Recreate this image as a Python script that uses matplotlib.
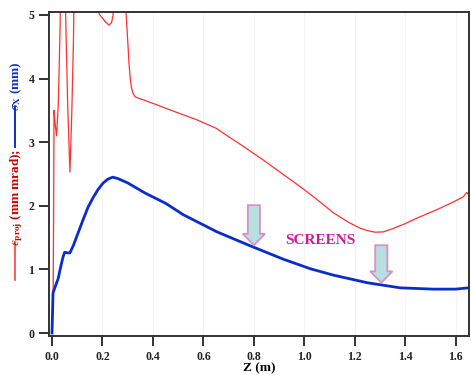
import numpy as np
import matplotlib
matplotlib.use('Agg')
import matplotlib.pyplot as plt
from matplotlib.patches import FancyArrow
from matplotlib.lines import Line2D

# beam size sigma_x (mm)
z_sig = [0.0, 0.004, 0.012, 0.024, 0.035, 0.044, 0.05, 0.06, 0.071, 0.085, 0.103,
         0.123, 0.143, 0.163, 0.183, 0.203, 0.222, 0.24, 0.26, 0.30, 0.369, 0.45,
         0.52, 0.654, 0.786, 0.917, 1.024, 1.115, 1.25, 1.38, 1.51, 1.6, 1.65]
sig_x = [0.0, 0.63, 0.72, 0.85, 1.05, 1.2, 1.27, 1.26, 1.26, 1.38, 1.57,
         1.78, 1.98, 2.13, 2.26, 2.36, 2.42, 2.45, 2.43, 2.36, 2.2, 2.04,
         1.86, 1.59, 1.37, 1.16, 1.01, 0.91, 0.79, 0.71, 0.69, 0.69, 0.71]

# projected emittance (mm mrad), values above 5 run off the top
z_eps = [0.004, 0.006, 0.008, 0.012, 0.018, 0.025, 0.032, 0.038, 0.048, 0.054,
         0.062, 0.071, 0.078, 0.085, 0.092, 0.13, 0.175, 0.19, 0.21, 0.226, 0.236,
         0.242, 0.255, 0.28, 0.294, 0.300, 0.305, 0.31, 0.315, 0.322, 0.33, 0.38,
         0.44, 0.5, 0.575, 0.65, 0.706, 0.76, 0.837, 0.9, 0.984, 1.05, 1.115, 1.18,
         1.22, 1.25, 1.28, 1.313, 1.35, 1.4, 1.448, 1.52, 1.58, 1.63, 1.643, 1.65]
eps = [0.3, 1.5, 3.5, 3.3, 3.1, 3.6, 4.8, 7.0, 7.0, 5.0,
       3.6, 2.53, 3.4, 4.6, 7.0, 8.0, 5.1, 5.0, 4.9, 4.84, 4.88,
       5.0, 6.0, 7.0, 5.0, 4.6, 4.25, 4.0, 3.85, 3.76, 3.71, 3.64,
       3.55, 3.46, 3.35, 3.22, 3.07, 2.93, 2.72, 2.54, 2.30, 2.1, 1.89, 1.73,
       1.65, 1.61, 1.585, 1.59, 1.64, 1.72, 1.81, 1.93, 2.04, 2.14, 2.21, 2.18]

# screen positions (z, top, tip)
screens_z = [0.8, 1.305]
screens_top = [2.01, 1.38]
screens_tip = [1.38, 0.79]

serif = 'Liberation Serif'
plt.rcParams['font.family'] = serif
plt.rcParams['mathtext.fontset'] = 'stix'

fig = plt.figure(figsize=(4.71, 3.75), dpi=100)
ax = fig.add_axes([0.104, 0.104, 0.892, 0.864])

ax.plot(z_eps, eps, color='#ff3030', lw=0.9)
ax.plot(z_sig, sig_x, color='#0b2ccc', lw=2.0)

for zs, top, tip in zip(screens_z, screens_top, screens_tip):
    ax.add_patch(FancyArrow(zs, top, 0, tip - top, width=0.048, head_width=0.088,
                            head_length=0.18, length_includes_head=True,
                            facecolor='#b8e0e0', edgecolor='#d890c8', lw=1.3, zorder=3))

ax.text(1.063, 1.46, 'SCREENS', color='#cc1a99', fontsize=11, fontweight='bold',
        ha='center', va='center')

ax.set_xlim(-0.012, 1.653)
ax.set_ylim(-0.047, 5.047)
ax.set_xticks(np.arange(0, 1.61, 0.2))
ax.set_xticklabels(['%.1f' % v for v in np.arange(0, 1.61, 0.2)])
ax.set_yticks(range(6))
ax.tick_params(direction='out', length=7, width=1.3, labelsize=8.5, colors='#222222')
for lab in ax.get_xticklabels() + ax.get_yticklabels():
    lab.set_fontweight('bold')
for s in ax.spines.values():
    s.set_linewidth(1.4)
    s.set_color('#333333')
ax.grid(axis='x', color='#f4f4f4', lw=0.6)

ax.set_xlabel('Z (m)', fontsize=9.5, fontweight='bold', labelpad=0)

# composed y label
x0 = 0.032
fig.add_artist(Line2D([x0, x0], [1 - 280 / 375, 1 - 242 / 375], color='#ff4040', lw=1.2))
fig.text(x0 + 0.004, 1 - 197 / 375, r'$\epsilon_{\mathbf{proj}}$ (mm mrad);', color='#cc0000',
         fontsize=9.5, fontweight='bold', rotation=90, ha='center', va='center')
fig.add_artist(Line2D([x0, x0], [1 - 147 / 375, 1 - 107 / 375], color='#1030c0', lw=1.4))
fig.text(x0 + 0.002, 1 - 86 / 375, r'$\sigma_{\mathbf{X}}$ (mm)', color='#1030c0',
         fontsize=9.5, fontweight='bold', rotation=90, ha='center', va='center')

fig.savefig('out.png', dpi=100)
